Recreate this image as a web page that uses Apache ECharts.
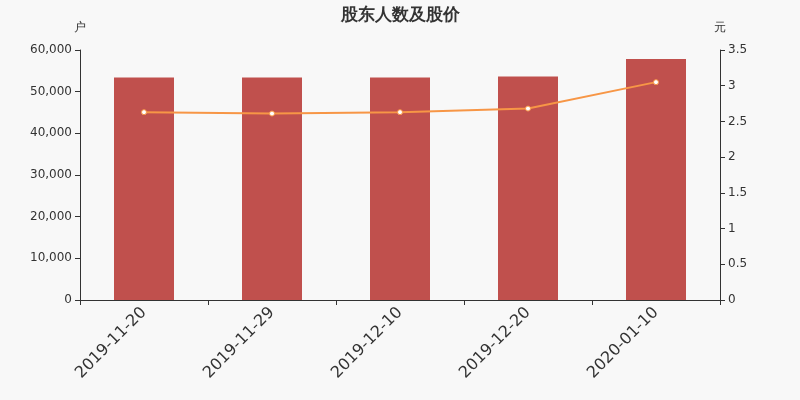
<!DOCTYPE html>
<html>
  <head>
    <meta http-equiv="Content-Type" content="text/html; charset=UTF-8">
    <title>股东人数及股价</title>
    <style type="text/css">
      body {
        margin: 0;
        padding: 0;
        background-color: #f8f8f8;
      }
      #main {
        width: 800px;
        height: 400px;
      }
    </style>
  </head>
  <body>
    <div id="main"></div>
    <script src="https://cdn.jsdelivr.net/npm/echarts@6/dist/echarts.min.js" type="text/javascript"></script>
    <script type="text/javascript">
      var dates = ['2019-11-20', '2019-11-29', '2019-12-10', '2019-12-20', '2020-01-10'];
      var holders = [53400, 53380, 53390, 53640, 57850];
      var prices = [2.63, 2.61, 2.63, 2.68, 3.05];

      var font = 'DejaVu Sans';
      var myChart = echarts.init(document.getElementById('main'));
      var option = {
          backgroundColor: '#f8f8f8',
          animation: false,
          textStyle: { fontFamily: font },
          title: {
              text: '股东人数及股价',
              left: 'center',
              top: 2,
              textStyle: { fontSize: 17, fontWeight: 'bold', color: '#333', fontFamily: font }
          },
          grid: { left: 80, right: 80, top: 50, bottom: 100 },
          xAxis: {
              type: 'category',
              data: dates,
              axisLine: { lineStyle: { color: '#333' } },
              axisTick: { show: true, alignWithLabel: false, lineStyle: { color: '#333' } },
              axisLabel: { rotate: 45, fontSize: 16, color: '#333', margin: 10 }
          },
          yAxis: [{
              type: 'value',
              name: '户',
              min: 0,
              max: 60000,
              interval: 10000,
              nameGap: 16,
              nameTextStyle: { color: '#333', fontSize: 12 },
              axisLine: { show: true, lineStyle: { color: '#333' } },
              axisTick: { show: true },
              splitLine: { show: false },
              axisLabel: {
                  color: '#333',
                  fontSize: 12,
                  formatter: function (v) { return v.toLocaleString('en-US'); }
              }
          }, {
              type: 'value',
              name: '元',
              min: 0,
              max: 3.5,
              interval: 0.5,
              nameGap: 16,
              nameTextStyle: { color: '#333', fontSize: 12 },
              axisLine: { show: true, lineStyle: { color: '#333' } },
              axisTick: { show: true },
              splitLine: { show: false },
              axisLabel: { color: '#333', fontSize: 12 }
          }],
          series: [{
              type: 'bar',
              data: holders,
              barWidth: 60,
              itemStyle: { color: '#c0504d' }
          }, {
              type: 'line',
              yAxisIndex: 1,
              data: prices,
              symbol: 'circle',
              symbolSize: 5,
              lineStyle: { color: '#f79646', width: 2 },
              itemStyle: { color: '#fff', borderColor: '#f79646', borderWidth: 1 }
          }]
      };
      myChart.setOption(option);
    </script>
  </body>
</html>
